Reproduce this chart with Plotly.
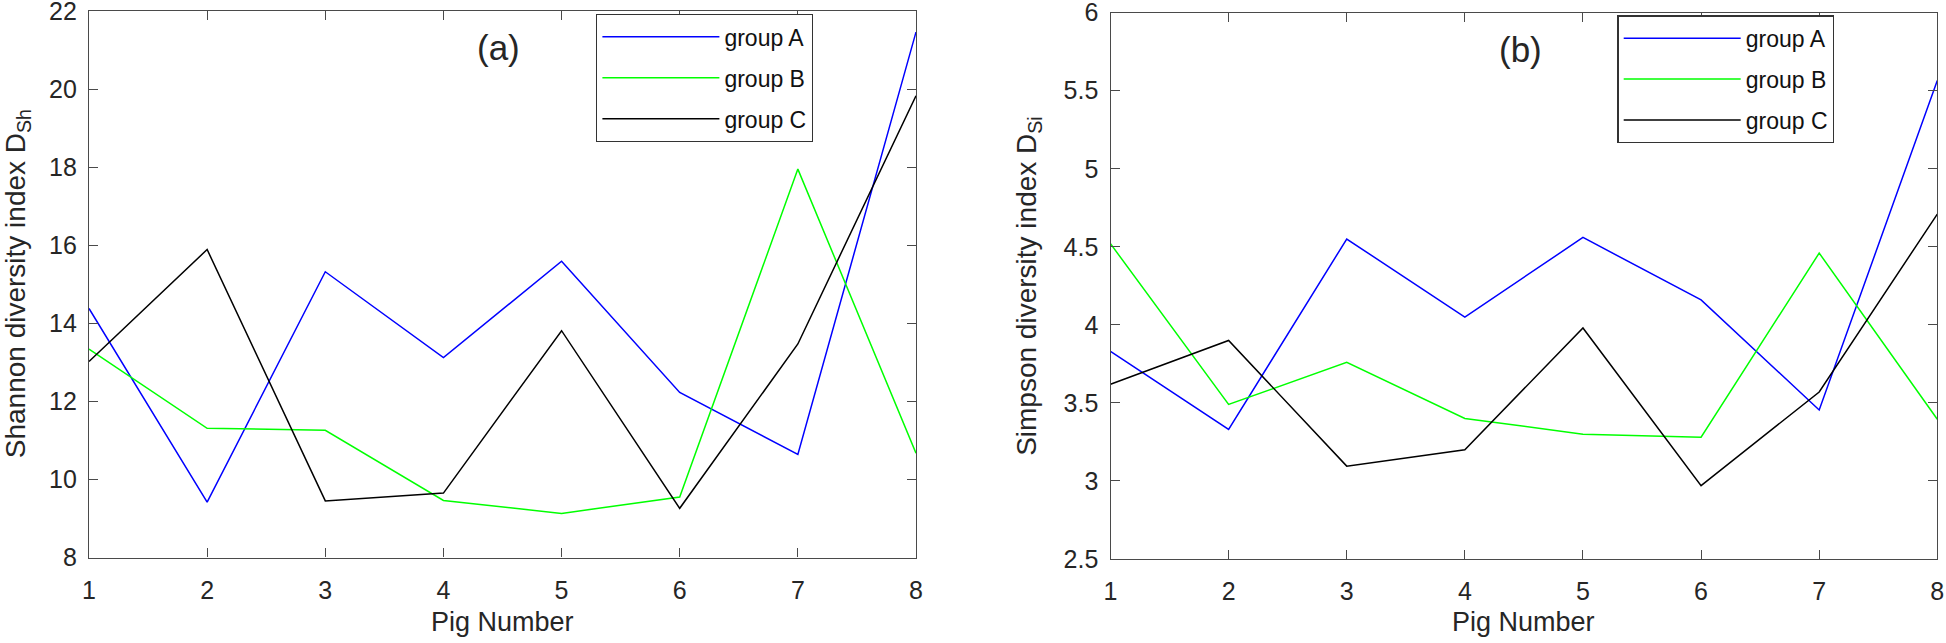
import plotly.graph_objects as go

# ---------------- data ----------------
pig_numbers = [1, 2, 3, 4, 5, 6, 7, 8]
series_names = ["group A", "group B", "group C"]
series_colors = ["#0000FF", "#00FF00", "#000000"]

shannon_group_a = [14.38, 9.42, 15.32, 13.12, 15.59, 12.23, 10.64, 21.46]
shannon_group_b = [13.34, 11.31, 11.26, 9.46, 9.13, 9.55, 17.95, 10.67]
shannon_group_c = [13.02, 15.89, 9.45, 9.65, 13.81, 9.26, 13.47, 19.83]

simpson_group_a = [3.83, 3.33, 4.55, 4.05, 4.56, 4.16, 3.455, 5.565]
simpson_group_b = [4.52, 3.49, 3.76, 3.40, 3.30, 3.28, 4.46, 3.395]
simpson_group_c = [3.62, 3.90, 3.095, 3.20, 3.98, 2.97, 3.57, 4.71]

x_tick_vals = [1, 2, 3, 4, 5, 6, 7, 8]
x_tick_text = ["1", "2", "3", "4", "5", "6", "7", "8"]
shannon_tick_vals = [8, 10, 12, 14, 16, 18, 20, 22]
shannon_tick_text = ["8", "10", "12", "14", "16", "18", "20", "22"]
simpson_tick_vals = [2.5, 3, 3.5, 4, 4.5, 5, 5.5, 6]
simpson_tick_text = ["2.5", "3", "3.5", "4", "4.5", "5", "5.5", "6"]

x_title = "Pig Number"
shannon_title = "Shannon diversity index D<sub>Sh</sub>"
simpson_title = "Simpson diversity index D<sub>Si</sub>"
panel_labels = ["(a)", "(b)"]

# ---------------- figure ----------------
W, H = 1946, 643
font_family = "Liberation Sans, Arial, Helvetica, sans-serif"
axis_color = "#4a4a4a"
text_color = "#262626"

fig = go.Figure()

panels = [
    ("x", "y", "legend", [shannon_group_a, shannon_group_b, shannon_group_c]),
    ("x2", "y2", "legend2", [simpson_group_a, simpson_group_b, simpson_group_c]),
]
for p, (xa, ya, leg, series) in enumerate(panels):
    for name, color, vals in zip(series_names, series_colors, series):
        fig.add_trace(go.Scatter(
            x=pig_numbers, y=vals, name=name, mode="lines",
            line=dict(color=color, width=1.5),
            xaxis=xa, yaxis=ya, legend=leg,
            legendgroup=f"{leg}-{name}",
        ))

axis_common = dict(
    showline=True, linecolor=axis_color, linewidth=1.4, mirror="ticks",
    ticks="inside", ticklen=9, tickwidth=1.4, tickcolor=axis_color,
    showgrid=False, zeroline=False, automargin=False,
    ticklabeloverflow="allow",
    tickfont=dict(size=25, color=text_color, family=font_family),
)

fig.update_layout(
    width=W, height=H,
    margin=dict(l=0, r=0, t=0, b=0, pad=0),
    paper_bgcolor="white", plot_bgcolor="white",
    font=dict(family=font_family, color=text_color),
    xaxis=dict(domain=[89 / W, 916 / W], range=[1, 8], tickvals=x_tick_vals,
               ticktext=x_tick_text, anchor="y", ticklabelstandoff=10, **axis_common),
    yaxis=dict(domain=[1 - 557.5 / H, 1 - 11 / H], range=[8, 22], tickvals=shannon_tick_vals,
               ticktext=shannon_tick_text, anchor="x", ticklabelstandoff=6, **axis_common),
    xaxis2=dict(domain=[1110.5 / W, 1937.3 / W], range=[1, 8], tickvals=x_tick_vals,
                ticktext=x_tick_text, anchor="y2", ticklabelstandoff=10, **axis_common),
    yaxis2=dict(domain=[1 - 559 / H, 1 - 12.7 / H], range=[2.5, 6], tickvals=simpson_tick_vals,
                ticktext=simpson_tick_text, anchor="x2", ticklabelstandoff=6, **axis_common),
    showlegend=True,
)

legend_common = dict(
    xanchor="left", yanchor="top", bgcolor="white",
    bordercolor="#333333", borderwidth=1.4,
    font=dict(size=23, color="#111111", family=font_family),
    itemwidth=117, traceorder="grouped", tracegroupgap=8,
)
fig.update_layout(
    legend=dict(x=596 / W, y=1 - 14 / H, **legend_common),
    legend2=dict(x=1617.3 / W, y=1 - 15.3 / H, **legend_common),
)

# axis titles and panel labels
for xa_dom, ya_dom, ytitle, ytitle_x, label in [
    ("x domain", "y domain", shannon_title, 17 / W, panel_labels[0]),
    ("x2 domain", "y2 domain", simpson_title, 1029 / W, panel_labels[1]),
]:
    fig.add_annotation(text=x_title, xref=xa_dom, x=0.5, yref="paper", y=1 - 622 / H,
                       xanchor="center", yanchor="middle", showarrow=False,
                       font=dict(size=27, color=text_color, family=font_family))
    fig.add_annotation(text=ytitle, xref="paper", x=ytitle_x, yref=ya_dom, y=0.5,
                       xanchor="center", yanchor="middle", textangle=-90, showarrow=False,
                       font=dict(size=28, color=text_color, family=font_family))
    fig.add_annotation(text=label, xref=xa_dom, x=0.4955, yref=ya_dom, y=0.933,
                       xanchor="center", yanchor="middle", showarrow=False,
                       font=dict(size=35, color=text_color, family=font_family))

fig.write_html("out.html",
               config={"displayModeBar": False},
               post_script="document.body.style.margin='0';document.body.style.overflow='hidden';")
